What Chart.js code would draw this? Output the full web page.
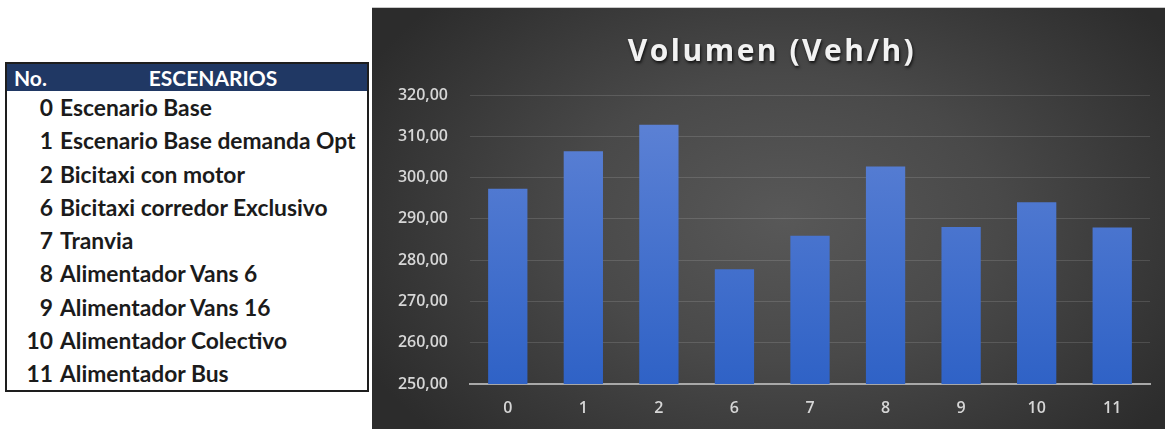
<!DOCTYPE html>
<html>
<head>
<meta charset="utf-8">
<script src="https://cdn.jsdelivr.net/npm/chart.js@4"></script>
<style>
    body {
        margin: 0;
        width: 1165px;
        height: 429px;
        background: #ffffff;
        position: relative;
        overflow: hidden;
        font-family: Lato, "Open Sans", sans-serif;
    }
    #scenarioTable {
        position: absolute;
        left: 5px;
        top: 62px;
        width: 360px;
        height: 326px;
        border: 2px solid #1e1e1e;
        background: #ffffff;
    }
    #scenarioTable .head {
        height: 27px;
        background: #203864;
        color: #ffffff;
        font-weight: bold;
        font-size: 21px;
        position: relative;
        line-height: 27px;
    }
    #scenarioTable .head .no { position: absolute; left: 7px; }
    #scenarioTable .head .title { position: absolute; left: 0; right: 0; text-align: center; padding-left: 52px; }
    #scenarioTable .row {
        height: 33.3px;
        line-height: 33.3px;
        font-weight: bold;
        font-size: 22.8px;
        color: #1b1b1b;
        white-space: nowrap;
    }
    #scenarioTable .row .num { display: inline-block; width: 46px; text-align: right; }
    #scenarioTable .row .name { margin-left: 7px; }
    #chartBox {
        position: absolute;
        left: 372px;
        top: 7px;
        width: 793px;
        height: 422px;
        border-top: 1px solid #c8c8c8;
        box-sizing: border-box;
        background: radial-gradient(ellipse 60% 75% at 52% 50%, #585858 0%, #494949 45%, #2c2c2c 100%);
    }
</style>
</head>
<body>
<div id="scenarioTable"></div>
<div id="chartBox"><canvas id="volumeChart" width="793" height="421"></canvas></div>

<script>
const scenarioIds = ['0', '1', '2', '6', '7', '8', '9', '10', '11'];
const scenarioNames = [
    'Escenario Base',
    'Escenario Base demanda Opt',
    'Bicitaxi con motor',
    'Bicitaxi corredor Exclusivo',
    'Tranvia',
    'Alimentador Vans 6',
    'Alimentador Vans 16',
    'Alimentador Colectivo',
    'Alimentador Bus'
];
const volumes = [297.3, 306.4, 312.8, 277.8, 285.9, 302.7, 288.0, 294.0, 287.9];
const yMin = 250;
const yMax = 320;
const yStep = 10;

// scenario list on the left
function buildTable() {
    const table = document.getElementById('scenarioTable');
    let html = '<div class="head"><span class="no">No.</span><span class="title">ESCENARIOS</span></div>';
    for (let i = 0; i < scenarioIds.length; i++) {
        html += '<div class="row"><span class="num">' + scenarioIds[i] + '</span><span class="name">' + scenarioNames[i] + '</span></div>';
    }
    table.innerHTML = html;
}

// title drawn by hand so it can have letter spacing and a drop shadow
const spacedTitle = {
    id: 'spacedTitle',
    afterDraw(chart) {
        const ctx = chart.ctx;
        ctx.save();
        ctx.font = 'bold 30px "Open Sans"';
        ctx.letterSpacing = '2.5px';
        ctx.textAlign = 'center';
        ctx.textBaseline = 'middle';
        ctx.shadowColor = 'rgba(0, 0, 0, 0.75)';
        ctx.shadowOffsetX = 1;
        ctx.shadowOffsetY = 2;
        ctx.shadowBlur = 3;
        ctx.fillStyle = '#f2f2f2';
        ctx.fillText('Volumen (Veh/h)', 400, 44);
        ctx.restore();
    }
};

function barGradient(context) {
    const area = context.chart.chartArea;
    if (!area) return '#4472c4';
    const g = context.chart.ctx.createLinearGradient(0, area.top, 0, area.bottom);
    g.addColorStop(0, '#6084d6');
    g.addColorStop(1, '#2f62c6');
    return g;
}

function formatTick(value) {
    return value.toFixed(2).replace('.', ',');
}

function createVolumeChart() {
    const canvas = document.getElementById('volumeChart');
    return new Chart(canvas, {
        type: 'bar',
        data: {
            labels: scenarioIds,
            datasets: [{
                label: 'Volumen (Veh/h)',
                data: volumes,
                backgroundColor: barGradient,
                borderWidth: 0,
                barPercentage: 0.52,
                categoryPercentage: 1
            }]
        },
        options: {
            responsive: false,
            animation: false,
            layout: { padding: { left: 0, right: 15, top: 87, bottom: 0 } },
            plugins: {
                legend: { display: false },
                title: { display: false },
                tooltip: { enabled: false }
            },
            scales: {
                x: {
                    grid: { display: false },
                    border: { display: true, color: '#a8a8a8', width: 2 },
                    ticks: {
                        color: '#d6d6d6',
                        font: { family: 'Open Sans', size: 16, weight: '600' },
                        padding: 7
                    },
                    afterFit(scale) { scale.height = 45; }
                },
                y: {
                    min: yMin,
                    max: yMax,
                    grid: { color: 'rgba(255, 255, 255, 0.13)', lineWidth: 1, drawTicks: false },
                    border: { display: false },
                    ticks: {
                        stepSize: yStep,
                        color: '#d6d6d6',
                        font: { family: 'Open Sans', size: 16, weight: '600' },
                        padding: 22,
                        callback: formatTick
                    },
                    afterFit(scale) { scale.width = 98; }
                }
            }
        },
        plugins: [spacedTitle]
    });
}

buildTable();
let volumeChart = createVolumeChart();
</script>
</body>
</html>
